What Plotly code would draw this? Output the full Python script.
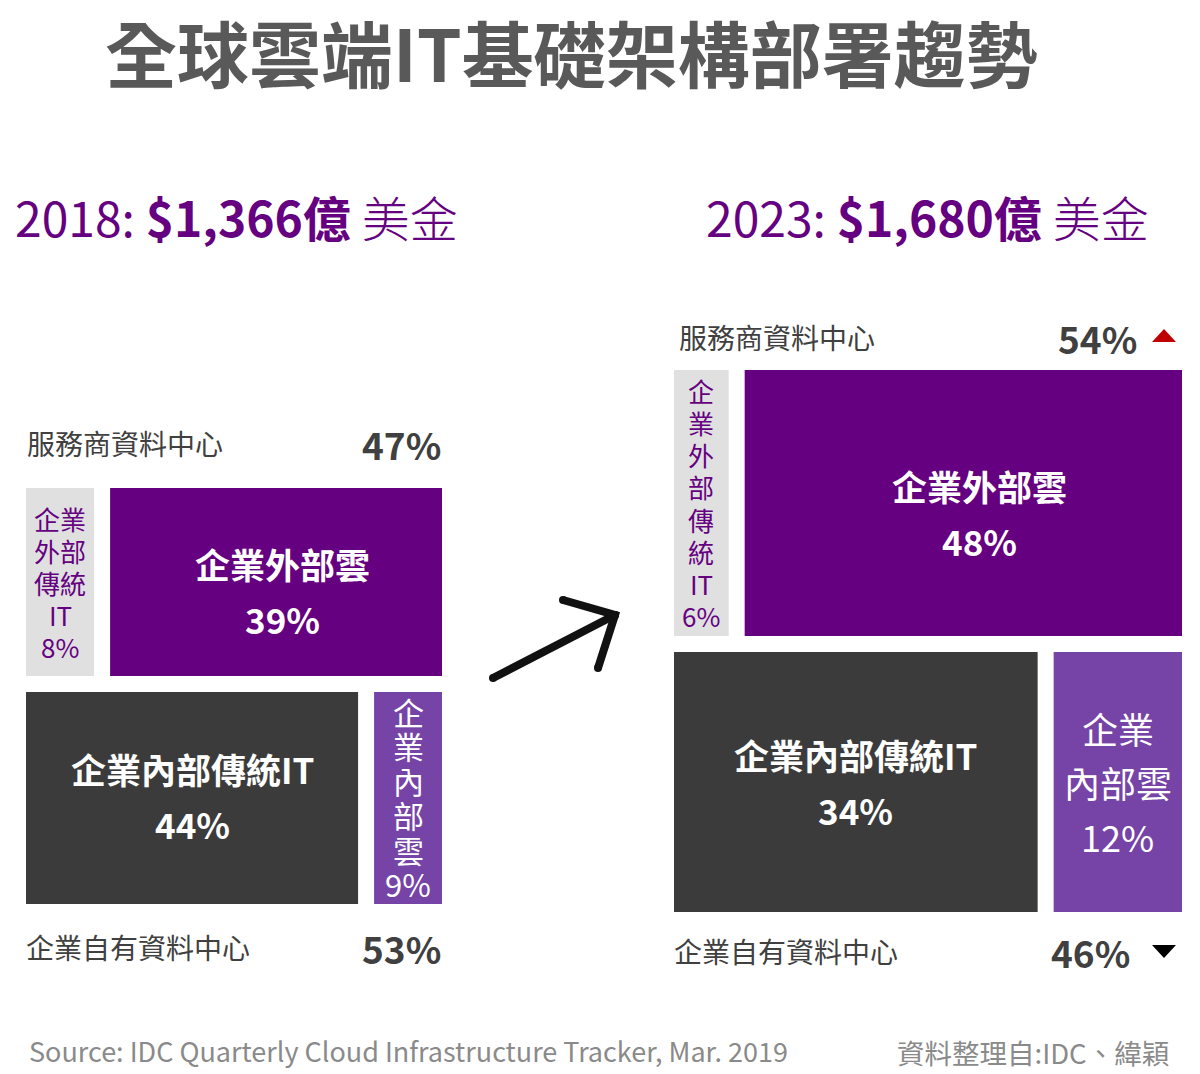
import plotly.graph_objects as go

# ---------------- data ----------------
years = ["2018", "2023"]
market_totals = ["$1,366億", "$1,680億"]
currency = "美金"
provider_dc_share = [47, 54]        # 服務商資料中心
enterprise_dc_share = [53, 46]      # 企業自有資料中心
ext_traditional_it = [8, 6]         # 企業外部傳統IT
ext_cloud = [39, 48]                # 企業外部雲
int_traditional_it = [44, 34]       # 企業內部傳統IT
int_cloud = [9, 12]                 # 企業內部雲
provider_trend = [None, "up"]
enterprise_trend = [None, "down"]

title_text = "全球雲端IT基礎架構部署趨勢"
provider_label = "服務商資料中心"
enterprise_label = "企業自有資料中心"
ext_cloud_label = "企業外部雲"
int_trad_label = "企業內部傳統IT"
source_text = "Source: IDC Quarterly Cloud Infrastructure Tracker, Mar. 2019"
credit_text = "資料整理自:IDC、緯穎"

# line-wrapping of the narrow cell labels (per panel)
ext_trad_lines = [["企業", "外部", "傳統", "IT"], ["企", "業", "外", "部", "傳", "統", "IT"]]
int_cloud_lines = [["企", "業", "內", "部", "雲"], ["企業", "內部雲"]]

# ---------------- layout constants ----------------
W, H = 1200, 1074
FONT = "Noto Sans CJK TC"
PURPLE = "#650080"
LIGHT_PURPLE = "#7644a6"
GRAY = "#e0e0e0"
DARK = "#3b3b3b"
LABEL = "#404040"
SRC = "#8a8a8a"

panels = [
    dict(x0=26, width=416, y0=488, row_h=(188, 212), gap=16,
         head_x=13, head_y=216, top_label_y=443, bot_label_y=947,
         narrow_top_font=26, narrow_top_pitch=32,
         narrow_bot_font=31, narrow_bot_pitch=34.5,
         main_font=35, main_pitch=55, ext_cloud_dx=6, ext_cloud_dy=9, int_trad_dy=-2,
         pct_right_offset=0, tri_x=None),
    dict(x0=674, width=508, y0=370, row_h=(266, 260), gap=16,
         head_x=704, head_y=216, top_label_y=337, bot_label_y=951,
         narrow_top_font=26, narrow_top_pitch=32.2,
         narrow_bot_font=36, narrow_bot_pitch=54,
         main_font=35, main_pitch=55, ext_cloud_dx=16, ext_cloud_dy=10, int_trad_dy=0,
         pct_right_offset=44, tri_x=1164),
]

fig = go.Figure()
shapes = []
annotations = []


def add_text(text, x, y, size, color, bold=False, xanchor="center", font=FONT, height=None):
    ann = dict(
        x=x, y=y, xref="x", yref="y", text=f"<b>{text}</b>" if bold else text,
        showarrow=False, xanchor=xanchor, yanchor="middle",
        font=dict(family=font, size=size, color=color))
    if height is not None:
        ann["height"] = height
        ann["valign"] = "middle"
    annotations.append(ann)


def add_lines(lines, cx, cy, pitch, size, color, bold=False):
    n = len(lines)
    for i, ln in enumerate(lines):
        add_text(ln, cx, cy + (i - (n - 1) / 2) * pitch, size, color, bold,
                 height=min(pitch - 1, size * 1.3))


def rect(x0, y0, x1, y1, color):
    shapes.append(dict(type="rect", xref="x", yref="y", x0=x0, y0=y0, x1=x1, y1=y1,
                       fillcolor=color, line=dict(width=0), layer="below"))


for i, p in enumerate(panels):
    x0, y0, gap = p["x0"], p["y0"], p["gap"]
    inner = p["width"] - gap
    h_top, h_bot = p["row_h"]
    x_right = x0 + p["width"]

    # top row: provider data centre
    top_tot = ext_traditional_it[i] + ext_cloud[i]
    w1 = inner * ext_traditional_it[i] / top_tot
    ty0, ty1 = y0, y0 + h_top
    rect(x0, ty0, x0 + w1, ty1, GRAY)
    rect(x0 + w1 + gap, ty0, x_right, ty1, PURPLE)
    add_lines(ext_trad_lines[i] + [f"{ext_traditional_it[i]}%"], x0 + w1 / 2, (ty0 + ty1) / 2,
              p["narrow_top_pitch"], p["narrow_top_font"], PURPLE)
    add_lines([ext_cloud_label, f"{ext_cloud[i]}%"],
              (x0 + w1 + gap + x_right) / 2 + p["ext_cloud_dx"],
              (ty0 + ty1) / 2 + p["ext_cloud_dy"], p["main_pitch"], p["main_font"], "white", bold=True)

    # bottom row: enterprise data centre
    bot_tot = int_traditional_it[i] + int_cloud[i]
    w2 = inner * int_traditional_it[i] / bot_tot
    by0, by1 = ty1 + gap, ty1 + gap + h_bot
    rect(x0, by0, x0 + w2, by1, DARK)
    rect(x0 + w2 + gap, by0, x_right, by1, LIGHT_PURPLE)
    add_lines([int_trad_label, f"{int_traditional_it[i]}%"], x0 + w2 / 2,
              (by0 + by1) / 2 + p["int_trad_dy"],
              p["main_pitch"], p["main_font"], "white", bold=True)
    add_lines(int_cloud_lines[i] + [f"{int_cloud[i]}%"], (x0 + w2 + gap + x_right) / 2,
              (by0 + by1) / 2, p["narrow_bot_pitch"], p["narrow_bot_font"], "white")

    # heading
    annotations.append(dict(
        x=p["head_x"], y=p["head_y"], xref="x", yref="y", showarrow=False,
        xanchor="left", yanchor="middle",
        text=(f"{years[i]}: <b>{market_totals[i]}</b> "
              f"<span style='font-weight:300'>{currency}</span>"),
        font=dict(family=FONT, size=48, color=PURPLE)))

    # row labels + shares
    lab_x = x0 + (3 if i == 1 else -1)
    add_text(provider_label, lab_x, p["top_label_y"], 28, LABEL, xanchor="left")
    add_text(enterprise_label, x0 - 2, p["bot_label_y"], 28, LABEL, xanchor="left")
    pct_x = x_right - p["pct_right_offset"]
    add_text(f"{provider_dc_share[i]}%", pct_x + 1, p["top_label_y"] + 1, 37, LABEL,
             bold=True, xanchor="right")
    add_text(f"{enterprise_dc_share[i]}%", pct_x + 1 - (7 if i == 1 else 0), p["bot_label_y"] + 1,
             37, LABEL, bold=True, xanchor="right")

    # trend triangles
    if p["tri_x"] is not None:
        cx = p["tri_x"]
        if provider_trend[i] == "up":
            cy = p["top_label_y"] - 1
            shapes.append(dict(type="path", xref="x", yref="y",
                               path=f"M{cx-12},{cy+6} L{cx+12},{cy+6} L{cx},{cy-7} Z",
                               fillcolor="#c00000", line=dict(width=0)))
        if enterprise_trend[i] == "down":
            cy = p["bot_label_y"]
            shapes.append(dict(type="path", xref="x", yref="y",
                               path=f"M{cx-12},{cy-6} L{cx+12},{cy-6} L{cx},{cy+7} Z",
                               fillcolor="#000000", line=dict(width=0)))

# hand-drawn style arrow between the two panels
arrow_shaft = dict(x=[493, 615], y=[678, 615])
arrow_head = dict(x=[563, 615, 598], y=[600, 615, 668])
for seg in (arrow_shaft, arrow_head):
    fig.add_trace(go.Scatter(x=seg["x"], y=seg["y"], mode="lines+markers",
                             line=dict(color="#111111", width=8),
                             marker=dict(size=8, color="#111111"),
                             hoverinfo="skip", showlegend=False))

# title and footers
add_text(title_text, 571, 50, 72, "#595959", bold=True, height=86)
add_text(source_text, 27, 1050, 27, SRC, xanchor="left")
add_text(credit_text, 1171, 1052, 27.5, SRC, xanchor="right")

fig.update_layout(
    width=W, height=H, margin=dict(l=0, r=0, t=0, b=0),
    paper_bgcolor="white", plot_bgcolor="white",
    xaxis=dict(range=[0, W], visible=False, fixedrange=True),
    yaxis=dict(range=[H, 0], visible=False, fixedrange=True),
    shapes=shapes, annotations=annotations, showlegend=False,
)

fig.write_html("out.html", config={"displayModeBar": False})
with open("out.html", encoding="utf-8") as f:
    html = f.read()
html = html.replace("<head>", "<head><style>html,body{margin:0;padding:0;overflow:hidden}</style>", 1)
with open("out.html", "w", encoding="utf-8") as f:
    f.write(html)
